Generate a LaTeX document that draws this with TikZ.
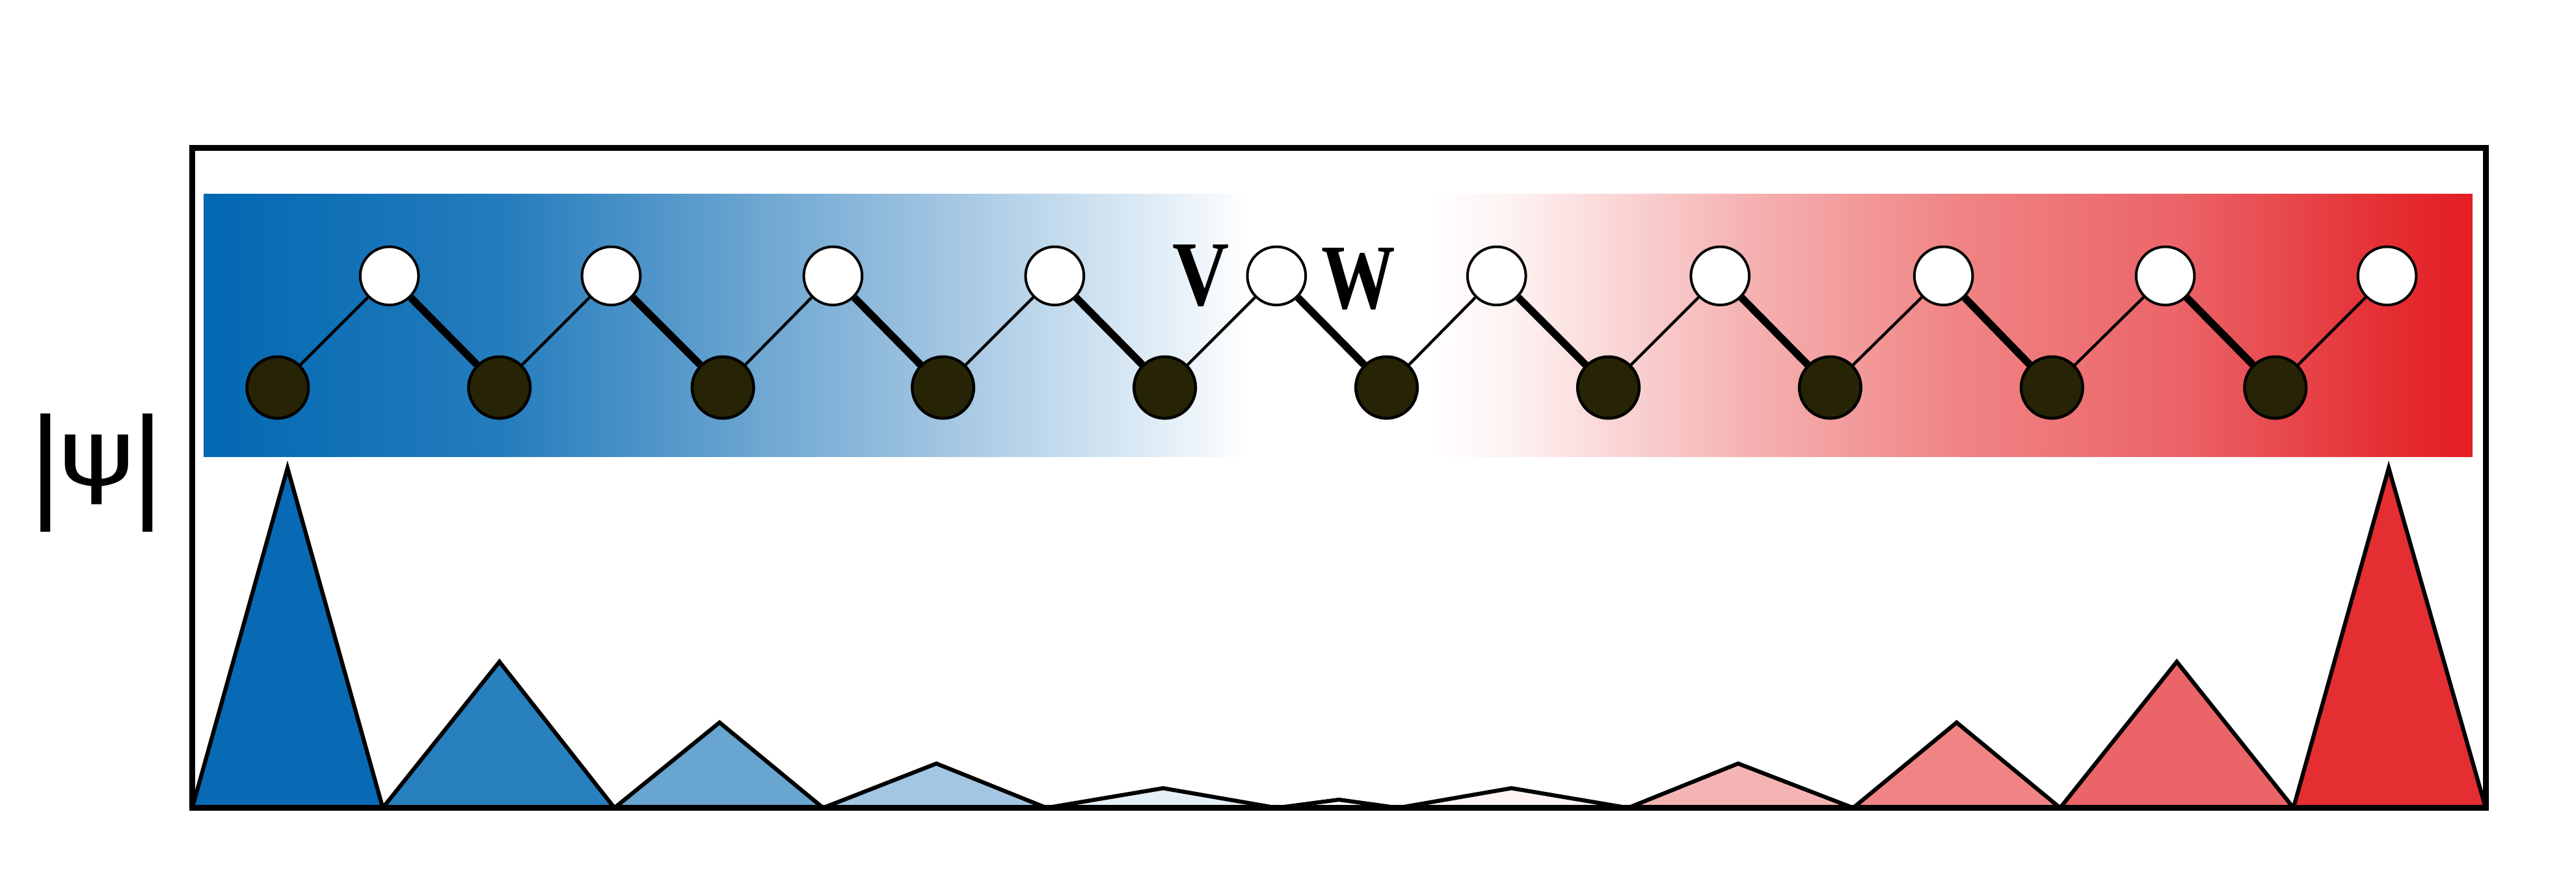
\documentclass[tikz,border=0pt]{standalone}
\usepackage{fontspec}
\usepackage{graphicx}
\newfontfamily\dejavu{DejaVu Sans}
\newfontfamily\libserif{Liberation Serif}
\definecolor{darkolive}{RGB}{38,36,5}
\definecolor{bA}{RGB}{2,104,178}
\definecolor{bB}{RGB}{36,124,188}
\definecolor{bC}{RGB}{98,160,206}
\definecolor{bD}{RGB}{160,196,225}
\definecolor{bE}{RGB}{226,238,247}
\definecolor{rE}{RGB}{254,242,242}
\definecolor{rD}{RGB}{245,180,180}
\definecolor{rC}{RGB}{240,132,133}
\definecolor{rB}{RGB}{235,100,104}
\definecolor{rA}{RGB}{228,46,50}
\definecolor{rZ}{RGB}{227,30,36}
\definecolor{tA}{RGB}{8,106,180}
\definecolor{tB}{RGB}{40,128,190}
\definecolor{tC}{RGB}{104,165,208}
\definecolor{tD}{RGB}{163,198,226}
\definecolor{tE}{RGB}{228,239,248}
\begin{document}
\begin{tikzpicture}[x=0.1mm,y=-0.1mm,
  wnode/.style={circle, draw=black, line width=0.45pt, fill=white, minimum size=3.55mm, inner sep=0pt},
  dnode/.style={circle, draw=black, line width=0.5pt, fill=darkolive, minimum size=3.75mm, inner sep=0pt},
  thinbond/.style={line width=0.5pt},
  thickbond/.style={line width=1.3pt},
  tri/.style={draw=black, line width=0.7pt, line join=miter},
  framebox/.style={draw=black, line width=1pt},
  vw/.style={font=\libserif\bfseries\fontsize{16pt}{18pt}\selectfont, inner sep=0pt}]
\useasboundingbox (0,0) rectangle (1568,535);
% gradient band
\shade[left color=bA, right color=bB] (124,118) rectangle (304.5,278);
\shade[left color=bB, right color=bC] (304,118) rectangle (438.5,278);
\shade[left color=bC, right color=bD] (438,118) rectangle (570.5,278);
\shade[left color=bD, right color=bE] (570,118) rectangle (708.5,278);
\shade[left color=bE, right color=white] (708,118) rectangle (760,278);
\shade[left color=white, right color=rE] (870,118) rectangle (920.5,278);
\shade[left color=rE, right color=rD] (920,118) rectangle (1058.5,278);
\shade[left color=rD, right color=rC] (1058,118) rectangle (1191.5,278);
\shade[left color=rC, right color=rB] (1191,118) rectangle (1325.5,278);
\shade[left color=rB, right color=rA] (1325,118) rectangle (1454.5,278);
\shade[left color=rA, right color=rZ] (1454,118) rectangle (1505,278);
% nodes
\foreach \i/\xw/\xd in {1/237/169,2/372/304,3/507/440,4/642/574,5/777/709,6/911/844,7/1047/979,8/1183/1114,9/1318/1249,10/1453/1385}{
  \node[wnode] (w\i) at (\xw,168) {};
  \node[dnode] (d\i) at (\xd,236) {};
}
\foreach \i in {1,...,10}{\draw[thinbond] (d\i) -- (w\i);}
\foreach \i/\j in {1/2,2/3,3/4,4/5,5/6,6/7,7/8,8/9,9/10}{\draw[thickbond] (w\i) -- (d\j);}
% labels
\node[vw] (V) at (731,168) {\scalebox{0.85}[1]{V}};
\node[vw] (W) at (827,170) {\scalebox{0.8}[1]{W}};
\node[anchor=base, inner sep=0pt] (psilabel) at (59,307) {\dejavu\fontsize{20.5pt}{24pt}\selectfont |\hspace{-1.2pt}\raisebox{3.3pt}{\scalebox{1.25}[1]{\fontsize{16pt}{18pt}\selectfont ψ}}\hspace{-1.2pt}|};
% triangles
\filldraw[tri, fill=tA] (117,492) -- (175,285) -- (233,492) -- cycle;
\filldraw[tri, fill=tB] (233,492) -- (304,403) -- (374,492) -- cycle;
\filldraw[tri, fill=tC] (374,492) -- (438,440) -- (501,492) -- cycle;
\filldraw[tri, fill=tD] (501,492) -- (570,465) -- (637,492) -- cycle;
\filldraw[tri, fill=tE] (637,492) -- (708,480) -- (777,492) -- cycle;
\filldraw[tri, fill=white] (777,492) -- (815,487) -- (851,492) -- cycle;
\filldraw[tri, fill=rE] (851,492) -- (920,480) -- (991,492) -- cycle;
\filldraw[tri, fill=rD] (991,492) -- (1058,465) -- (1128,492) -- cycle;
\filldraw[tri, fill=rC] (1128,492) -- (1191,440) -- (1254,492) -- cycle;
\filldraw[tri, fill=rB] (1254,492) -- (1325,403) -- (1396,492) -- cycle;
\filldraw[tri, fill=rA] (1396,492) -- (1454,285) -- (1513,492) -- cycle;
% frame
\draw[framebox] (117,90) rectangle (1513,492);
\end{tikzpicture}
\end{document}
